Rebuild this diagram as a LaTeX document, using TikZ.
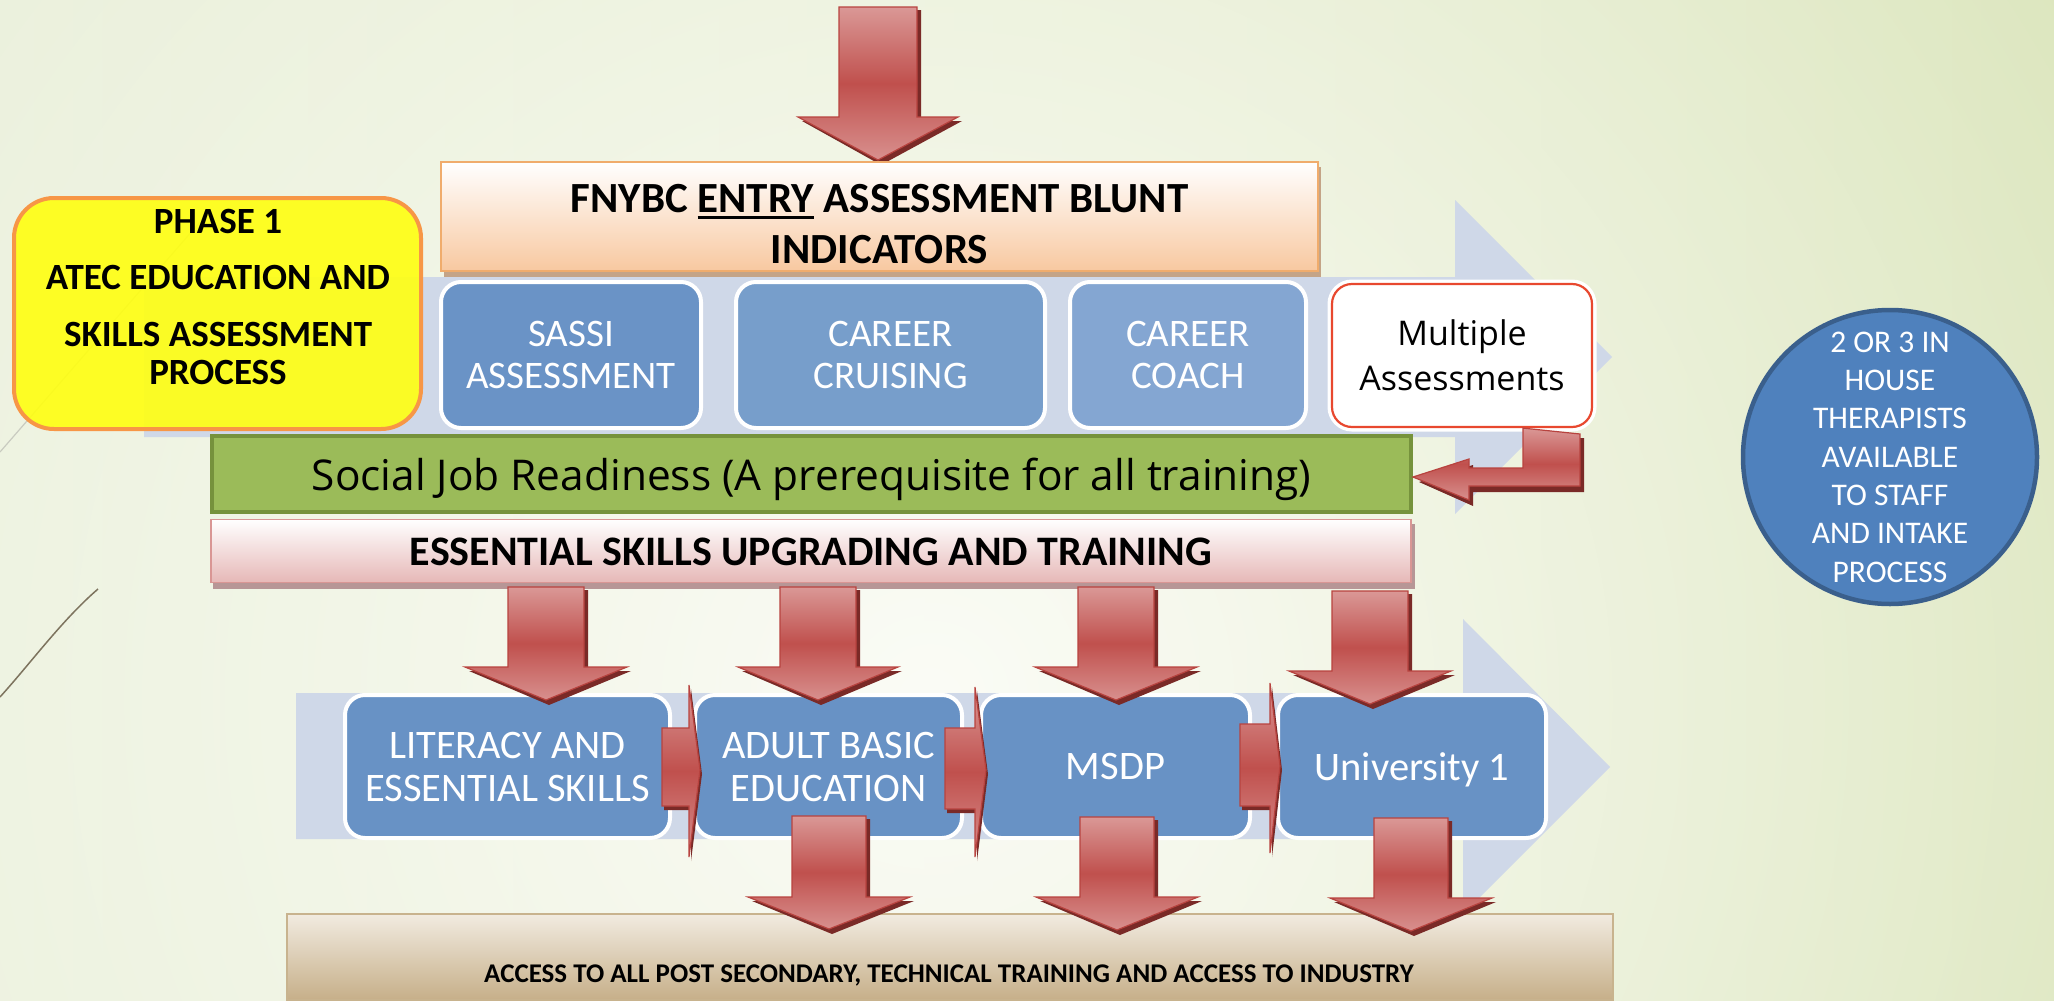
\documentclass[tikz,border=0pt]{standalone}
\usepackage{fontspec}
\setmainfont{Carlito}
\newfontfamily\segoe{Open Sans}
\usetikzlibrary{calc,fadings}
\definecolor{bgin}{HTML}{FBFCF6}
\definecolor{bgleft}{HTML}{E7EED6}
\definecolor{bgright}{HTML}{D9E4B8}
\definecolor{band}{HTML}{CFD8E8}
\definecolor{boxA}{HTML}{6A93C6}
\definecolor{boxB}{HTML}{779ECB}
\definecolor{boxC}{HTML}{84A6D2}
\definecolor{boxD}{HTML}{6892C5}
\definecolor{yel}{HTML}{FFFF10}
\definecolor{orng}{HTML}{F79646}
\definecolor{peach}{HTML}{F8C8A0}
\definecolor{peachedge}{HTML}{F0AC6C}
\definecolor{peachshadow}{HTML}{C4A487}
\definecolor{grn}{HTML}{9BBB59}
\definecolor{grnedge}{HTML}{76923C}
\definecolor{pink}{HTML}{E6B8B7}
\definecolor{pinkedge}{HTML}{D99694}
\definecolor{pinkshadow}{HTML}{B79696}
\definecolor{tanA}{HTML}{F1EBE0}
\definecolor{tanB}{HTML}{C6AF89}
\definecolor{tanedge}{HTML}{C8B38E}
\definecolor{circ}{HTML}{4F81BD}
\definecolor{circedge}{HTML}{3A5F8C}
\definecolor{arrTop}{HTML}{DA9896}
\definecolor{arrMid}{HTML}{C0504D}
\definecolor{arrBot}{HTML}{D8908E}
\definecolor{arrEdge}{HTML}{B8433F}
\definecolor{arrShadow}{HTML}{7A2A27}
\definecolor{redline}{HTML}{E8482F}
\definecolor{lineA}{HTML}{C9CBC0}
\definecolor{lineB}{HTML}{7D735E}
\tikzfading[name=glowfade, inner color=transparent!0, outer color=transparent!100]

\newcommand\entryul[1]{\leavevmode\vtop{\hbox{#1}\kern4pt\hrule height 2.6pt}}

\newcommand\downblock[6]{% cx top halfshaft headtop halfhead tip
  \fill[arrShadow] (#1-#3+4,#2+3) -- (#1+#3+4,#2+3) -- (#1+#3+4,#4+4) -- (#1+#5+4,#4+4) -- (#1+3,#6+5) -- (#1-#5+4,#4+4) -- (#1-#3+4,#4+4) -- cycle;
  \path[redblock] (#1-#3,#2) -- (#1+#3,#2) -- (#1+#3,#4) -- (#1+#5,#4) -- (#1,#6) -- (#1-#5,#4) -- (#1-#3,#4) -- cycle;
}
\newcommand\rightblock[8]{% x0 xh shafttop shaftbot headtop headbot tipx tipy
  \fill[arrShadow] (#1+2,#3+4) -- (#2+2,#3+4) -- (#2+2,#5+4) -- (#7+2,#8+4) -- (#2+2,#6+4) -- (#2+2,#4+4) -- (#1+2,#4+4) -- cycle;
  \path[redblock] (#1,#3) -- (#2,#3) -- (#2,#5) -- (#7,#8) -- (#2,#6) -- (#2,#4) -- (#1,#4) -- cycle;
}

\begin{document}
\begin{tikzpicture}[x=1pt,y=-1pt,
  redblock/.style={top color=arrTop, bottom color=arrBot, middle color=arrMid, draw=arrEdge, line width=1.2pt},
  bluebox/.style={rounded corners=20pt, draw=white, line width=4pt, text=white, align=center,
     inner sep=0pt, text depth=0pt},
  topbox/.style={bluebox, minimum height=146pt, font=\fontsize{39}{42}\selectfont},
  lowbox/.style={bluebox, minimum height=143pt, fill=boxD, font=\fontsize{40.5}{43}\selectfont},
  boldtxt/.style={font=\bfseries\fontsize{#1}{#1}\selectfont, inner sep=0pt, anchor=base},
  bandshape/.style={fill=band}
]
\useasboundingbox (0,0) rectangle (2054,1001);

% ---------- background ----------
\begin{scope}
\clip (0,0) rectangle (2054,1001);
\shade[left color=bgleft, right color=bgright] (0,0) rectangle (2054,1001);
\fill[bgin, path fading=glowfade] (930,700) circle (1500);
\end{scope}
\draw[lineA, line width=1.2pt] (0,452) -- (200,222);
\draw[lineB, line width=1.5pt] (0,697) .. controls (30,664) and (62,620) .. (98,589);

% ---------- chevron bands ----------
\fill[bandshape] (144,277) -- (1455,277) -- (1455,200) -- (1612,357) -- (1455,514) -- (1455,437) -- (144,437) -- cycle;
\fill[bandshape] (296,693) -- (1463,693) -- (1463,619) -- (1610,767) -- (1463,914) -- (1463,839) -- (296,839) -- cycle;

% ---------- top arrow ----------
\downblock{878}{7}{39}{117}{80}{160}

% ---------- FNYBC box ----------
\fill[peachshadow] (444,167) rectangle (1321,277);
\node[minimum width=877pt, minimum height=109pt, inner sep=0pt, top color=white, bottom color=peach,
      draw=peachedge, line width=1.5pt] (fnybc) at (879.5,216.5) {};
\node[boldtxt=43] (fn1) at (879.5,212) {FNYBC \entryul{ENTRY} ASSESSMENT BLUNT};
\node[boldtxt=43] (fn2) at (879.5,263) {INDICATORS};

% ---------- phase box ----------
\node[rounded corners=40pt, fill=yel, fill opacity=0.9, draw=orng, draw opacity=1, line width=4pt,
      minimum width=407pt, minimum height=231pt, inner sep=0pt] (phase) at (217.5,313.5) {};
\node[boldtxt=37] (ph1) at (218,233) {PHASE 1};
\node[boldtxt=37] (ph2) at (218,289) {ATEC EDUCATION AND};
\node[boldtxt=37] (ph3) at (218,346) {SKILLS ASSESSMENT};
\node[boldtxt=37] (ph4) at (218,384) {PROCESS};

% ---------- top row ----------
\node[topbox, fill=boxA, minimum width=260pt] (sassi) at (571,355) {SASSI\\ASSESSMENT};
\node[topbox, fill=boxB, minimum width=309pt] (cruise) at (890.5,355) {CAREER\\CRUISING};
\node[topbox, fill=boxC, minimum width=236pt] (coach) at (1188,355) {CAREER\\COACH};
\node[rounded corners=20pt, fill=white, draw=redline, line width=2.2pt,
      preaction={draw=white, line width=9pt},
      minimum width=260pt, minimum height=143pt, inner sep=0pt, align=center, text depth=0pt,
      font=\segoe\fontsize{34}{45}\selectfont] (multi) at (1462,355.5) {Multiple\\Assessments};

% ---------- social job readiness ----------
\node[fill=grn, draw=grnedge, line width=4pt, minimum width=1199pt, minimum height=76pt, inner sep=0pt] (social) at (811.5,474) {};
\node[font=\segoe\fontsize{42.4}{42.4}\selectfont, inner sep=0pt, anchor=base] (socialtxt) at (811.5,490)
  {Social Job Readiness (A prerequisite for all training)};

% bent arrow from Multiple Assessments into the green bar
\fill[arrShadow] (1527,438) -- (1584,438) -- (1584,492) -- (1473,492) -- (1473,506) -- (1419,482) -- (1473,465) -- (1473,474) -- (1527,474) -- cycle;
\path[redblock] ($(multi.south)+(61,0)$) -- (1580,434) -- (1580,486) -- (1469,486) -- (1469,500) -- (social.east |- 0,477) -- (1469,459) -- (1469,468) -- (1523,468) -- cycle;

% ---------- essential skills bar ----------
\fill[pinkshadow] (213,524) rectangle (1415,589);
\node[minimum width=1200pt, minimum height=63pt, inner sep=0pt, top color=white, bottom color=pink,
      draw=pinkedge, line width=1.5pt] (ess) at (811,551) {};
\node[boldtxt=42] (esstxt) at (811,565) {ESSENTIAL SKILLS UPGRADING AND TRAINING};

% ---------- access bar ----------
\node[minimum width=1326pt, minimum height=86pt, inner sep=0pt, top color=tanA, bottom color=tanB,
      draw=tanedge, line width=1.5pt] (access) at (950,957) {};
\node[boldtxt=27] (accesstxt) at (949,982) {ACCESS TO ALL POST SECONDARY, TECHNICAL TRAINING AND ACCESS TO INDUSTRY};

% ---------- bottom row ----------
\node[lowbox, minimum width=325pt] (lit) at (507.5,766.5) {LITERACY AND\\ESSENTIAL SKILLS};
\node[lowbox, minimum width=267pt] (abe) at (828.5,766.5) {ADULT BASIC\\EDUCATION};
\node[lowbox, minimum width=269pt] (msdp) at (1115.5,766.5) {MSDP};
\node[lowbox, minimum width=268pt] (uni) at (1412,766.5) {University 1};

% connectors between bottom boxes
\rightblock{662}{689}{728}{806}{685}{857}{700}{770}
\rightblock{945}{975}{728}{809}{687}{857}{986}{770}
\rightblock{1240}{1270}{724}{806}{683}{853}{1280}{766}

% down arrows from the essential skills bar
\downblock{546}{587}{38}{667}{81}{700}
\downblock{818}{587}{38}{667}{80}{700}
\downblock{1116}{587}{38}{667}{81}{700}
\downblock{1370}{591}{38}{671}{81}{704}

% down arrows to the access bar
\downblock{829}{816}{37}{897}{81}{929}
\downblock{1117}{817}{37}{897}{81}{930}
\downblock{1411}{818}{37}{898}{81}{931}

% ---------- circle ----------
\node[circle, fill=circ, draw=circedge, line width=4.5pt, minimum size=294pt, inner sep=0pt,
      text=white, align=center, font=\fontsize{31.5}{38.3}\selectfont, text depth=0pt] (ther) at (1890,457)
  {2 OR 3 IN\\HOUSE\\THERAPISTS\\AVAILABLE\\TO STAFF\\AND INTAKE\\PROCESS};
\end{tikzpicture}
\end{document}
